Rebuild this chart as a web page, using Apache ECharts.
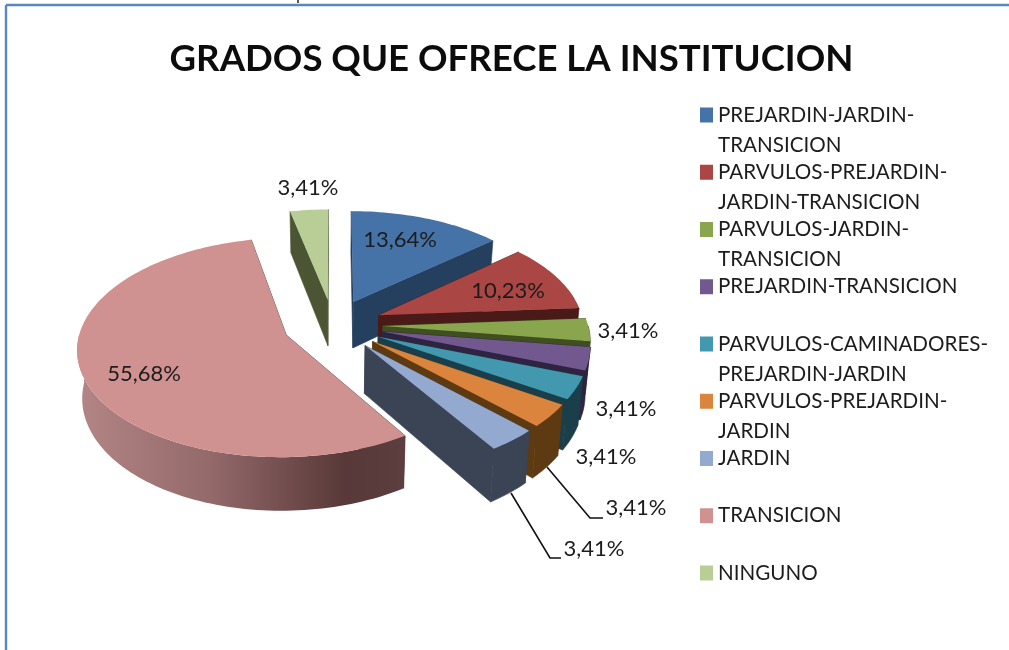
<!DOCTYPE html>
<html><head><meta charset="utf-8">
<style>html,body{margin:0;padding:0;background:#fff}#c{width:1009px;height:650px}</style>
<script src="https://cdn.jsdelivr.net/npm/echarts@6/dist/echarts.min.js"></script>
</head><body><div id="c"></div>
<script>
const categories = ['PREJARDIN-JARDIN-TRANSICION','PARVULOS-PREJARDIN-JARDIN-TRANSICION','PARVULOS-JARDIN-TRANSICION','PREJARDIN-TRANSICION','PARVULOS-CAMINADORES-PREJARDIN-JARDIN','PARVULOS-PREJARDIN-JARDIN','JARDIN','TRANSICION','NINGUNO'];
const legendLines = ['PREJARDIN-JARDIN-\nTRANSICION','PARVULOS-PREJARDIN-\nJARDIN-TRANSICION','PARVULOS-JARDIN-\nTRANSICION','PREJARDIN-TRANSICION','PARVULOS-CAMINADORES-\nPREJARDIN-JARDIN','PARVULOS-PREJARDIN-\nJARDIN','JARDIN','TRANSICION','NINGUNO'];
const shares = [13.64,10.23,3.41,3.41,3.41,3.41,3.41,55.68,3.41];
const topColors = ['#4572A7','#AA4643','#89A54E','#71588F','#4198AF','#DB843D','#93A9CF','#D09290','#B9CD96'];
const sideColors = ['#25405F','#4A1A18','#3F4F20','#2E2340','#1B3F4A','#5E3A12','#3A4454','#5A3A3A','#4C5533'];
const labelAnchors = [[400,240],[508,291],[628,331],[626,409],[606,457],[636,508],[594,549],[144,374],[308,188]];
const leaders = {5:[[547,467],[590,518],[603,518]],6:[[511,493],[550,558],[561,558]]};

const C = [333,325], R = 205, EXPLODE = 50, PERSP = 0.00055, TILT = 0.517, DEPTH = 47, LOW_SCALE = 0.98;
const total = shares.reduce((a,b)=>a+b,0);
const rad = d => d*Math.PI/180;

function sliceShape(i){
  let before = 0; for(let k=0;k<i;k++) before += shares[k];
  const a0 = before/total*360, a1 = (before+shares[i])/total*360, mid = (a0+a1)/2;
  const ox = EXPLODE*Math.sin(rad(mid)), oy = EXPLODE*Math.cos(rad(mid));
  const project = (X,Y,low) => {
    const s = 1/(1+PERSP*Y);
    return [C[0]+X*s*(low?LOW_SCALE:1), C[1]-TILT*Y*s+(low?DEPTH*s:0)];
  };
  const onRim = (deg,low) => project(ox+R*Math.sin(rad(deg)), oy+R*Math.cos(rad(deg)), low);
  const apex = low => project(ox,oy,low);
  const arc = (from,to,low) => {
    const pts=[]; const n=Math.max(2,Math.ceil(Math.abs(to-from)/1.5));
    for(let j=0;j<=n;j++) pts.push(onRim(from+(to-from)*j/n,low));
    return pts;
  };
  return {a0,a1,apex,onRim,arc};
}

function renderSlice(params, api){
  const i = params.seriesIndex, g = sliceShape(i), children = [];
  const side = sideColors[i];
  const face = deg => ({type:'polygon',shape:{points:[g.apex(false),g.onRim(deg,false),g.onRim(deg,true),g.apex(true)]},style:{fill:side,stroke:side,lineWidth:0.6}});
  children.push(face(g.a0), face(g.a1));
  const w0 = Math.max(g.a0,90), w1 = Math.min(g.a1,270);
  if(w1>w0){
    const fill = i===7 ? {type:'linear',global:true,x:84,y:0,x2:403,y2:0,colorStops:[{offset:0,color:'#B28484'},{offset:0.4,color:'#93696A'},{offset:0.82,color:'#583838'},{offset:1,color:'#5C3E3E'}]} : side;
    children.push({type:'polygon',shape:{points:g.arc(w0,w1,false).concat(g.arc(w1,w0,true))},style:{fill,stroke:i===7?null:side,lineWidth:0.6}});
  }
  children.push({type:'polygon',shape:{points:[g.apex(false)].concat(g.arc(g.a0,g.a1,false))},style:{fill:topColors[i]}});
  if(leaders[i]) children.push({type:'polyline',shape:{points:leaders[i]},style:{stroke:'#111',lineWidth:1.6,fill:null},z2:5});
  const txt = api.value(0).toFixed(2).replace('.',',')+'%';
  children.push({type:'text',x:labelAnchors[i][0],y:labelAnchors[i][1],z2:10,style:{text:txt,fill:'#1c1c1c',font:'22px Lato',align:'center',verticalAlign:'middle'}});
  return {type:'group',children};
}

const chart = echarts.init(document.getElementById('c'),null,{renderer:'canvas'});
chart.setOption({
  animation:false,
  backgroundColor:'#fff',
  title:{text:'GRADOS QUE OFRECE LA INSTITUCION',left:506.5,top:36,textAlign:'center',textStyle:{fontFamily:'Lato',fontWeight:'bold',fontSize:36.6,color:'#0c0c0c'}},
  legend:{
    orient:'vertical',left:695,top:65,itemWidth:13,itemHeight:15,itemGap:-32.75,icon:'rect',selectedMode:false,
    align:'left',data:categories,
    formatter:n=>{const t=legendLines[categories.indexOf(n)];return ' \n'+t+(t.includes('\n')?'':'\n ');},
    textStyle:{fontFamily:'Lato',fontSize:20.6,color:'#1c1c1c',lineHeight:30}
  },
  graphic:[
    {type:'line',shape:{x1:6,y1:5,x2:1009,y2:5},style:{stroke:'#5B87C0',lineWidth:2.4}},
    {type:'line',shape:{x1:6,y1:5,x2:6,y2:650},style:{stroke:'#5B87C0',lineWidth:2.4}},
    {type:'line',shape:{x1:298,y1:0,x2:298,y2:3},style:{stroke:'#222',lineWidth:1.5}}
  ],
  series:categories.map((name,i)=>({
    type:'custom',name,coordinateSystem:'none',z:i+1,
    itemStyle:{color:topColors[i]},
    renderItem:renderSlice,
    data:[[shares[i]]]
  }))
});
</script></body></html>
